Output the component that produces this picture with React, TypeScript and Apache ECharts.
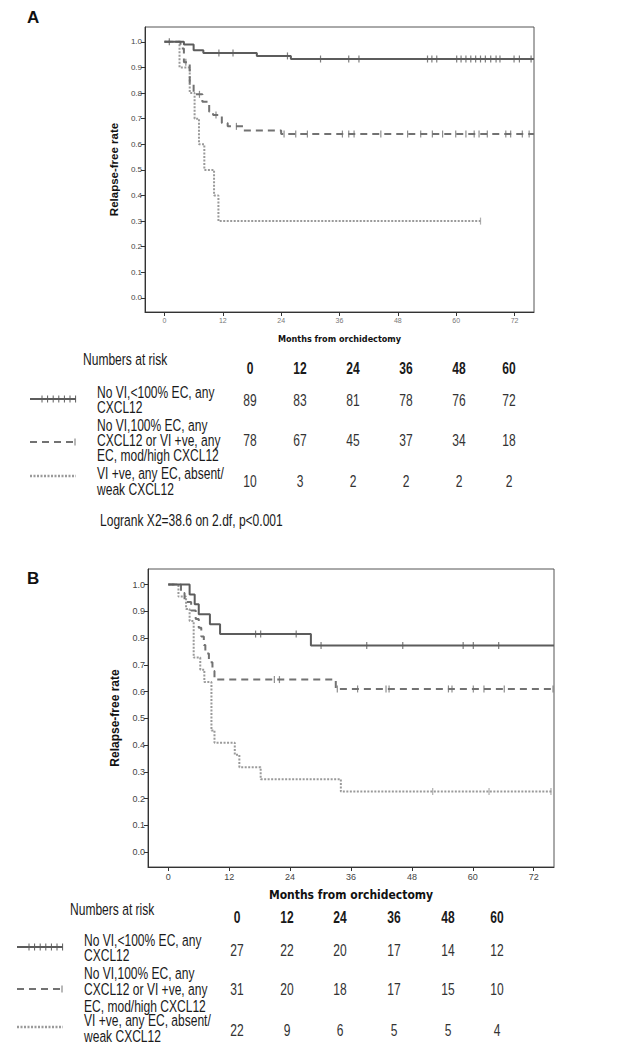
import React, { useEffect, useRef } from "react";
import * as echarts from "echarts";

// ---------- DATA ----------
const monthTicks = [0, 12, 24, 36, 48, 60, 72];
const rateTicks = [0, 0.1, 0.2, 0.3, 0.4, 0.5, 0.6, 0.7, 0.8, 0.9, 1.0];
const riskTimes = ["0", "12", "24", "36", "48", "60"];

const groupLabels = [
  ["No VI,<100% EC, any", "CXCL12"],
  ["No VI,100% EC, any", "CXCL12 or VI +ve, any", "EC, mod/high CXCL12"],
  ["VI +ve, any EC, absent/", "weak CXCL12"],
];

// Panel A Kaplan-Meier steps [month, rate]
const aSolid = [[0, 1], [4, 0.99], [6, 0.967], [8, 0.956], [19, 0.945], [26, 0.933], [76, 0.933]];
const aSolidCensor = [1, 11.2, 14.1, 25.3, 32.1, 37.9, 40, 54.1, 55, 56, 60.1, 61, 62, 63, 64, 65, 66, 67.1, 68.2, 69, 71.9, 73, 75.4];
const aDashed = [[0, 1], [3.3, 0.974], [4, 0.92], [5.2, 0.833], [6, 0.795], [7.8, 0.766], [9.2, 0.727], [10, 0.714], [11.8, 0.683], [13, 0.67], [16.2, 0.654], [24, 0.64], [76, 0.64]];
const aDashedCensor = [4.4, 7.2, 10.6, 14.8, 24.6, 27.0, 29.4, 36.6, 37.9, 39.0, 44.5, 50.0, 52.7, 55.1, 57.2, 59.9, 62.0, 63.7, 64.7, 66.4, 70.2, 71.2, 73.6, 75.0];
const aDotted = [[0, 1], [3.1, 0.9], [5.2, 0.8], [6.2, 0.7], [7.1, 0.6], [8.2, 0.5], [10.2, 0.4], [11.1, 0.3], [65, 0.3]];
const aDottedCensor = [65];

// Panel B Kaplan-Meier steps
const bSolid = [[0, 1], [4.2, 0.963], [5.2, 0.926], [6, 0.889], [8.2, 0.852], [10.2, 0.815], [28.1, 0.772], [76, 0.772]];
const bSolidCensor = [17.2, 18.2, 25.2, 30.1, 39.1, 46.2, 58.1, 60.1, 65.1];
const bDashed = [[0, 1], [2.5, 0.968], [3.2, 0.935], [4.5, 0.903], [5.4, 0.871], [6.0, 0.839], [6.5, 0.806], [7.0, 0.774], [7.3, 0.742], [8.0, 0.71], [8.7, 0.677], [9.1, 0.645], [33, 0.61], [76, 0.61]];
const bDashedCensor = [20.9, 21.9, 33.3, 37.3, 42.9, 43.5, 55.2, 55.9, 60.1, 62.2, 66.2, 75.8];
const bDotted = [[0, 1], [2, 0.955], [3.5, 0.909], [4.2, 0.864], [5, 0.727], [6.3, 0.682], [7.1, 0.636], [8.5, 0.455], [9.1, 0.409], [13.1, 0.364], [14, 0.318], [18.2, 0.273], [34, 0.227], [75.7, 0.227]];
const bDottedCensor = [52.1, 63.2, 75.4];

// Numbers at risk
const aRisk1 = [89, 83, 81, 78, 76, 72];
const aRisk2 = [78, 67, 45, 37, 34, 18];
const aRisk3 = [10, 3, 2, 2, 2, 2];
const bRisk1 = [27, 22, 20, 17, 14, 12];
const bRisk2 = [31, 20, 18, 17, 15, 10];
const bRisk3 = [22, 9, 6, 5, 5, 4];

const logrankText = "Logrank X2=38.6 on 2.df, p<0.001";

// ---------- STYLE / LAYOUT ----------
const C_SOLID = "#5c5c5c";
const C_DASH = "#727272";
const C_DOT = "#9a9a9a";
const ARIAL = "'Liberation Sans', Arial, sans-serif";
const COND = "'DejaVu Sans Condensed', 'Liberation Sans', Arial, sans-serif";
const NARROW_SCALE = 0.73;
const TABLE_FONT = 16.5;

function stepValue(curve: number[][], t: number) {
  let v = curve[0][1];
  for (const p of curve) if (p[0] <= t) v = p[1];
  return v;
}

function App() {
  const ref = useRef<HTMLDivElement>(null);
  useEffect(() => {
    if (!ref.current) return;
    const chart = echarts.init(ref.current, undefined, { renderer: "svg" });

    const grids = [
      { left: 145, top: 27, width: 389, height: 285 },
      { left: 148, top: 569, width: 406, height: 298 },
    ];

    const mkX = (i: number, labelSize: number, labelColor: string, nameSize: number, nameGap: number) => ({
      type: "value",
      gridIndex: i,
      min: -4,
      max: 76,
      name: "Months from orchidectomy",
      nameLocation: "middle",
      nameGap,
      nameTextStyle: { fontSize: nameSize, fontWeight: "bold", fontFamily: COND, color: "#111" },
      axisLine: { show: true, onZero: false, lineStyle: { color: "#333", width: 1 } },
      axisTick: { show: true, length: 4, inside: false, customValues: monthTicks, lineStyle: { color: "#333" } },
      axisLabel: { show: true, customValues: monthTicks, fontSize: labelSize, color: labelColor, margin: 5, fontFamily: ARIAL },
      splitLine: { show: false },
    });
    const mkY = (i: number, labelSize: number, nameSize: number, nameGap: number) => ({
      type: "value",
      gridIndex: i,
      min: -0.055,
      max: 1.058,
      name: "Relapse-free rate",
      nameLocation: "middle",
      nameGap,
      nameRotate: 90,
      nameTextStyle: { fontSize: nameSize, fontWeight: "bold", fontFamily: ARIAL, color: "#111" },
      axisLine: { show: true, onZero: false, lineStyle: { color: "#333", width: 1 } },
      axisTick: { show: true, length: 4, inside: false, customValues: rateTicks, lineStyle: { color: "#333" } },
      axisLabel: {
        show: true,
        customValues: rateTicks,
        fontSize: labelSize,
        color: "#444",
        margin: 3,
        fontFamily: ARIAL,
        formatter: (v: number) => v.toFixed(1),
      },
      splitLine: { show: false },
    });

    const lineSeries = (data: number[][], idx: number, color: string, type: any, width: number, z: number) => ({
      type: "line",
      xAxisIndex: idx,
      yAxisIndex: idx,
      data,
      step: "end",
      showSymbol: false,
      symbol: "none",
      lineStyle: { color, type, width },
      z,
    });
    const censorSeries = (times: number[], curve: number[][], idx: number, color: string, z: number) => ({
      type: "scatter",
      xAxisIndex: idx,
      yAxisIndex: idx,
      data: times.map((t) => [t, stepValue(curve, t)]),
      symbol: "rect",
      symbolSize: [1.2, 7],
      itemStyle: { color },
      z,
    });

    const graphic: any[] = [];
    const txt = (text: string, x: number, y: number, size: number, opts: any = {}) =>
      graphic.push({
        type: "text",
        x,
        y,
        scaleX: opts.noScale ? 1 : NARROW_SCALE,
        style: {
          text,
          fontSize: size,
          fontFamily: ARIAL,
          fontWeight: opts.bold ? "bold" : "normal",
          fill: opts.color || "#1a1a1a",
          textAlign: opts.align || "left",
          textVerticalAlign: "middle",
          align: opts.align || "left",
          verticalAlign: "middle",
        },
      });
    const seg = (x1: number, y1: number, x2: number, y2: number, color: string, width: number, dash?: any) =>
      graphic.push({
        type: "line",
        shape: { x1, y1, x2, y2 },
        style: { stroke: color, lineWidth: width, lineDash: dash },
      });

    // Panel letters
    txt("A", 27, 17, 17, { bold: true, color: "#111", noScale: true });
    txt("B", 27, 578, 17, { bold: true, color: "#111", noScale: true });

    // Risk tables
    const tables = [
      {
        title: { x: 83, y: 359 },
        headerY: 368,
        cols: [250, 300, 353, 406, 459, 509],
        labelX: 97,
        rows: [
          { vals: aRisk1, valY: 400, lineYs: [392, 407], sampleY: 399 },
          { vals: aRisk2, valY: 440, lineYs: [425, 440, 455], sampleY: 442 },
          { vals: aRisk3, valY: 481, lineYs: [473, 489], sampleY: 476 },
        ],
        sampleX: [30, 76],
      },
      {
        title: { x: 70, y: 909 },
        headerY: 917,
        cols: [237, 287, 340, 394, 448, 497],
        labelX: 84,
        rows: [
          { vals: bRisk1, valY: 950, lineYs: [940, 955], sampleY: 947 },
          { vals: bRisk2, valY: 989, lineYs: [973, 989, 1006], sampleY: 989 },
          { vals: bRisk3, valY: 1030, lineYs: [1020, 1036], sampleY: 1027 },
        ],
        sampleX: [17, 63],
      },
    ];
    tables.forEach((tb) => {
      txt("Numbers at risk", tb.title.x, tb.title.y, TABLE_FONT);
      riskTimes.forEach((h, i) => txt(h, tb.cols[i], tb.headerY, TABLE_FONT, { bold: true, align: "center" }));
      tb.rows.forEach((r, ri) => {
        groupLabels[ri].forEach((l, li) => txt(l, tb.labelX, r.lineYs[li], TABLE_FONT));
        r.vals.forEach((v, i) => txt(String(v), tb.cols[i], r.valY, TABLE_FONT, { align: "center", color: "#333" }));
        const [sx1, sx2] = tb.sampleX;
        const y = r.sampleY;
        if (ri === 0) {
          seg(sx1, y, sx2, y, C_SOLID, 2);
          for (let k = 0; k < 7; k++) {
            const x = sx1 + 12 + k * 5.6;
            seg(x, y - 3.5, x, y + 3.5, C_SOLID, 1);
          }
        } else if (ri === 1) {
          seg(sx1, y, sx2 - 3, y, C_DASH, 2, [7, 5]);
          seg(sx2 - 1, y - 3.5, sx2 - 1, y + 3.5, C_DASH, 1);
        } else {
          seg(sx1, y, sx2, y, C_DOT, 2.5, [2, 1.5]);
        }
      });
    });
    txt(logrankText, 100, 520, TABLE_FONT);

    chart.setOption({
      animation: false,
      backgroundColor: "#ffffff",
      grid: grids.map((g) => ({ ...g, show: true, borderColor: "#555", borderWidth: 1, backgroundColor: "transparent" })),
      xAxis: [mkX(0, 7, "#777", 9, 22), mkX(1, 9, "#444", 12, 22)],
      yAxis: [mkY(0, 8, 11.5, 24), mkY(1, 9, 12, 27)],
      series: [
        lineSeries(aDotted, 0, C_DOT, [2, 1.5], 2, 2),
        lineSeries(aDashed, 0, C_DASH, [7, 5], 2, 3),
        lineSeries(aSolid, 0, C_SOLID, "solid", 2, 4),
        censorSeries(aDottedCensor, aDotted, 0, C_DOT, 2),
        censorSeries(aDashedCensor, aDashed, 0, C_DASH, 3),
        censorSeries(aSolidCensor, aSolid, 0, C_SOLID, 4),
        lineSeries(bDotted, 1, C_DOT, [2, 1.5], 2, 2),
        lineSeries(bDashed, 1, C_DASH, [7, 5], 2, 3),
        lineSeries(bSolid, 1, C_SOLID, "solid", 2, 4),
        censorSeries(bDottedCensor, bDotted, 1, C_DOT, 2),
        censorSeries(bDashedCensor, bDashed, 1, C_DASH, 3),
        censorSeries(bSolidCensor, bSolid, 1, C_SOLID, 4),
      ],
      graphic,
    });
    return () => chart.dispose();
  }, []);
  return (
    <div
      ref={ref}
      style={{ position: "absolute", left: 0, top: 0, width: 638, height: 1049, background: "#fff" }}
    />
  );
}

export default App;
